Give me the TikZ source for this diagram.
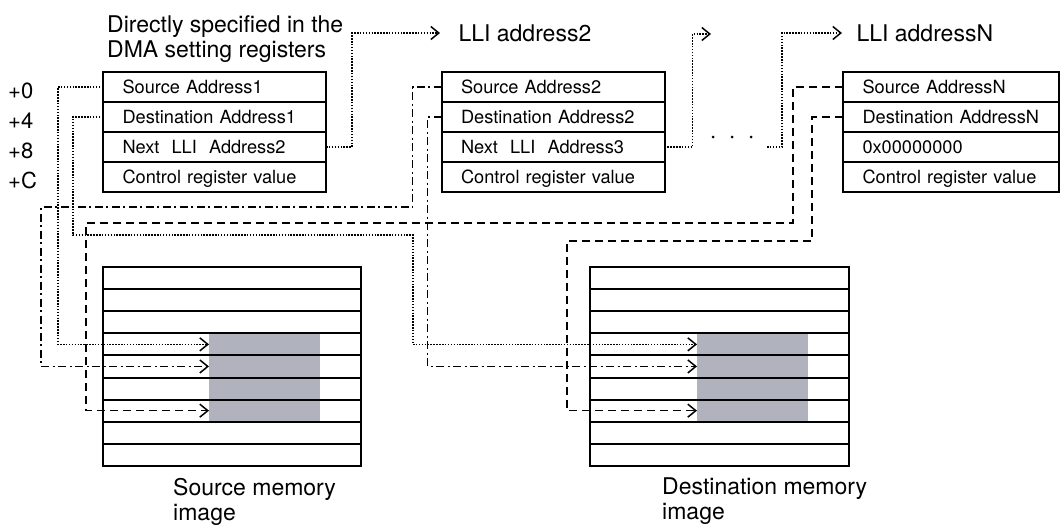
\documentclass[tikz,border=0pt]{standalone}
\usepackage{fontspec}
\setmainfont{TeX Gyre Heros}
\usetikzlibrary{positioning,arrows.meta}
\definecolor{selgray}{RGB}{176,179,189}
\newcommand{\bigfont}{\fontsize{23}{25}\selectfont}
\newcommand{\regfont}{\fontsize{18.2}{20}\selectfont}
\tikzset{
  reg/.style={draw, line width=2pt, outer sep=0pt, minimum height=30pt,
    inner xsep=19.5pt, inner ysep=0pt, text width=184pt, align=left,
    text height=12.5pt, text depth=0pt, font=\regfont},
  mem/.style={draw, line width=2pt, outer sep=0pt, minimum width=258pt,
    minimum height=22.1pt, inner sep=0pt},
  sel/.style={fill=selgray, inner sep=0pt, outer sep=0pt,
    minimum width=111pt, minimum height=88.4pt},
  lnk/.style={line width=1.5pt, -{Straight Barb[length=8pt,width=13pt]}},
  dotlink/.style={lnk, dash pattern=on 1.5pt off 1.4pt},
  dashdotlink/.style={lnk, dash pattern=on 8pt off 3.5pt on 2pt off 3.5pt},
  dashlink/.style={lnk, dash pattern=on 8pt off 5pt}
}
\begin{document}
\begin{tikzpicture}[x=1pt, y=-1pt, font=\bigfont]
  \useasboundingbox (0,0) rectangle (1060,528);

  \node[anchor=north west, align=left, inner sep=0pt] (title) at (107,15) {Directly specified in the\\DMA setting registers};
  \node[anchor=west] (lli2) at (455,33) {LLI address2};
  \node[anchor=west] (lliN) at (853,33) {LLI addressN};
  \foreach \o/\y in {0/98,4/128,8/158,C/188}
    \node[anchor=base west, inner sep=0pt, font=\fontsize{22}{25}\selectfont] (off\o) at (8,\y) {+\o};

  % descriptor 1
  \node[reg] (s1) at (214.5,87) {Source Address1};
  \node[reg, below=0pt of s1] (d1) {Destination Address1};
  \node[reg, below=0pt of d1] (n1) {Next\ \ LLI\ \ Address2};
  \node[reg, below=0pt of n1] (c1) {Control register value};
  % descriptor 2
  \node[reg] (s2) at (553,87) {Source Address2};
  \node[reg, below=0pt of s2] (d2) {Destination Address2};
  \node[reg, below=0pt of d2] (n2) {Next\ \ LLI\ \ Address3};
  \node[reg, below=0pt of n2] (c2) {Control register value};
  % descriptor N
  \node[reg, text width=177pt] (sN) at (951,87) {Source AddressN};
  \node[reg, text width=177pt, below=0pt of sN] (dN) {Destination AddressN};
  \node[reg, text width=177pt, below=0pt of dN] (nN) {0x00000000};
  \node[reg, text width=177pt, below=0pt of nN] (cN) {Control register value};

  \coordinate (gap2) at (711,34);
  \coordinate (dotsout) at (767,147);
  \foreach \x in {713,732,751}
    \fill (\x,137) circle (1.5);

  % memory images
  \node[sel, anchor=north west] (srcsel) at (209,333.3) {};
  \node[sel, anchor=north west] (dstsel) at (697,333.3) {};
  \foreach \i in {1,...,9} {
    \node[mem, anchor=north west] (src-\i) at (103,{267+(\i-1)*22.1}) {};
    \node[mem, anchor=north west, minimum width=259pt] (dst-\i) at (590,{267+(\i-1)*22.1}) {};
  }
  \node[anchor=north west, align=left, inner sep=0pt] (srclbl) at (173,478) {Source memory\\image};
  \node[anchor=north west, align=left, inner sep=0pt] (dstlbl) at (662,478) {Destination memory\\image};

  % links
  \draw[dotlink, shorten >=15pt] (n1.east) -- ++(26,0) |- (lli2.west);
  \draw[dotlink] (n2.east) -- ++(28,0) |- (gap2);
  \draw[dotlink, shorten >=11pt] (dotsout) -- ++(15,0) |- (lliN.west);

  \draw[dotlink] (s1.west) -- ++(-45,0) |- (srcsel.west |- src-4.center);
  \draw[dotlink] (d1.west) -- ++(-30,0) |- (413,235) |- (dstsel.west |- dst-4.center);
  \draw[dashdotlink] (s2.west) -- ++(-29,0) |- (41,207) |- (srcsel.west |- src-5.center);
  \draw[dashdotlink] (d2.west) -- ++(-14,0) |- (dstsel.west |- dst-5.center);
  \draw[dashlink] (sN.west) -- ++(-50,0) |- (86,223) |- (srcsel.west |- src-7.center);
  \draw[dashlink] (dN.west) -- ++(-31,0) |- (567,241) |- (dstsel.west |- dst-7.center);
\end{tikzpicture}
\end{document}
